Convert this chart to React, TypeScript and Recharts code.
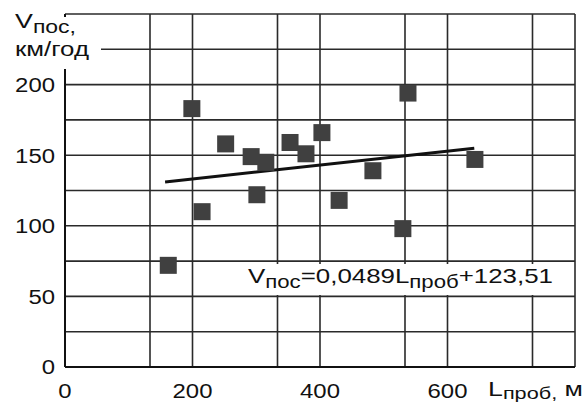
import { CartesianGrid, ComposedChart, Scatter, XAxis, YAxis } from "recharts";

// довжина пробігу, м
const lengthProb = [162, 199, 215, 252, 292, 301, 315, 353, 378, 403, 430, 483, 530, 538, 643];
// швидкість, км/год
const speedPos = [72, 183, 110, 158, 149, 122, 145, 159, 151, 166, 118, 139, 98, 194, 147];

// лінія тренду (кінці, як на рисунку)
const trendX = [157, 642];
const trendY = [131, 155];

const xTicks = [0, 200, 400, 600];
const yTicks = [0, 50, 100, 150, 200];
const gridX = [66.67, 133.33, 200, 266.67, 333.33, 400, 466.67, 533.33, 600, 666.67, 733.33, 800];
const gridY = [25, 50, 75, 100, 125, 150, 175, 200, 225, 250];

const points = lengthProb.map((l, i) => ({ x: l, y: speedPos[i] }));
const trend = trendX.map((l, i) => ({ x: l, y: trendY[i] }));

const FONT = "'Liberation Sans', Arial, sans-serif";

const Square = (props: any) => {
    const { cx, cy } = props;
    return <rect x={cx - 8.5} y={cy - 8.5} width={17} height={17} fill="#404040" />;
};

const Empty = () => <g />;

const YTick = (props: any) => {
    const { x, y, payload } = props;
    return (
        <text transform={`translate(${x},${y}) scale(1.14,1)`} textAnchor="end" dy="0.355em"
            fontSize={21} fontFamily={FONT} fill="#111">
            {payload.value}
        </text>
    );
};

const XTick = (props: any) => {
    const { x, y, payload } = props;
    return (
        <text transform={`translate(${x},${y}) scale(1.14,1)`} textAnchor="middle" dy="0.71em"
            fontSize={21} fontFamily={FONT} fill="#111">
            {payload.value}
        </text>
    );
};

export default function App() {
    return (
        <div style={{ position: "relative", width: 585, height: 403 }}>
            <style>{`body{margin:0}`}</style>
            <ComposedChart width={585} height={403} margin={{ top: 14, right: 10, bottom: 0, left: 0 }}>
                <CartesianGrid stroke="#2a2a2a" strokeWidth={1.6} horizontalValues={gridY} verticalValues={gridX} />
                <XAxis type="number" dataKey="x" domain={[0, 800]} ticks={xTicks} height={36}
                    axisLine={{ stroke: "#111", strokeWidth: 2 }} tickLine={false} tickSize={0} tickMargin={16}
                    tick={<XTick />} allowDataOverflow />
                <YAxis type="number" dataKey="y" domain={[0, 250]} ticks={yTicks} width={65}
                    axisLine={{ stroke: "#111", strokeWidth: 2 }} tickLine={false} tickSize={0} tickMargin={10}
                    tick={<YTick />} allowDataOverflow />
                <Scatter data={trend} line={{ stroke: "#111", strokeWidth: 3 }} shape={<Empty />} isAnimationActive={false} />
                <Scatter data={points} shape={<Square />} isAnimationActive={false} />
            </ComposedChart>
            <svg width={585} height={403} style={{ position: "absolute", left: 0, top: 0, pointerEvents: "none" }}>
                <rect x={0} y={17} width={101} height={52} fill="#fff" />
                <text x={15} y={28} fontSize={21} fontFamily={FONT} fill="#111" textLength={61} lengthAdjust="spacingAndGlyphs">
                    V<tspan fontSize={18} dy={5}>пос,</tspan>
                </text>
                <text x={15} y={56} fontSize={21} fontFamily={FONT} fill="#111" textLength={74} lengthAdjust="spacingAndGlyphs">
                    км/год
                </text>
                <rect x={240} y={264} width={328} height={31} fill="#fff" />
                <text x={248} y={283} fontSize={21} fontFamily={FONT} fill="#111" textLength={305} lengthAdjust="spacingAndGlyphs">
                    V<tspan fontSize={18} dy={5}>пос</tspan><tspan dy={-5}>=0,0489L</tspan><tspan fontSize={18} dy={5}>проб</tspan><tspan dy={-5}>+123,51</tspan>
                </text>
                <text x={488} y={396} fontSize={21} fontFamily={FONT} fill="#111" textLength={95} lengthAdjust="spacingAndGlyphs">
                    L<tspan fontSize={17} dy={3}>проб,</tspan><tspan dy={-3}> м</tspan>
                </text>
            </svg>
        </div>
    );
}
